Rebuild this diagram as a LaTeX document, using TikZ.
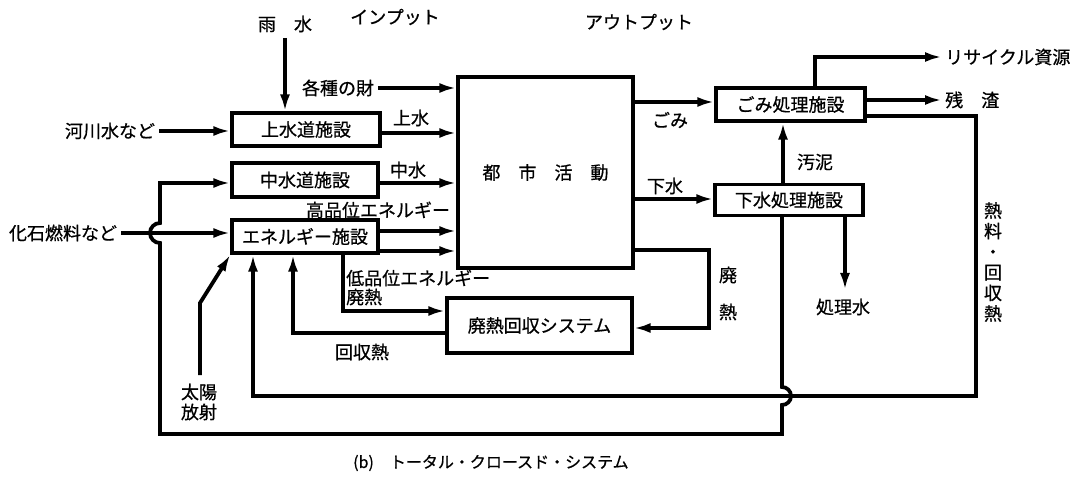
\documentclass[tikz,border=0pt]{standalone}
\usepackage{fontspec}
\setmainfont{Noto Sans CJK JP}[FakeBold=0.7]
\usetikzlibrary{arrows.meta,calc}
\begin{document}
\begin{tikzpicture}[x=1pt,y=-1pt,
  box/.style={draw,line width=3.2pt,inner sep=0pt,font=\fontsize{18pt}{20pt}\selectfont},
  lbl/.style={inner sep=0pt,font=\fontsize{18pt}{20pt}\selectfont},
  flow/.style={line width=3.8pt,-{Latex[length=17pt,width=10pt]}},
  wire/.style={line width=3.8pt}]
\useasboundingbox (0,0) rectangle (1089,478);
% boxes
\node[box,minimum width=148pt,minimum height=33pt] (josui) at (306,129.5) {上水道施設};
\node[box,minimum width=146pt,minimum height=34pt] (chusui) at (305,180) {中水道施設};
\node[box,minimum width=146pt,minimum height=33pt] (ene) at (305,236.5) {エネルギー施設};
\node[box,minimum width=175pt,minimum height=191pt] (toshi) at (545.5,172.5) {都　市　活　動};
\node[box,minimum width=185pt,minimum height=55pt] (haine) at (539.5,325.5) {廃熱回収システム};
\node[box,minimum width=149pt,minimum height=33pt] (gomi) at (790.5,104.5) {ごみ処理施設};
\node[box,minimum width=148pt,minimum height=31pt] (gesui) at (789,200) {下水処理施設};
% labels
\node[lbl] (ame) at (285,24) {雨　水};
\node[lbl] (input) at (395,17) {インプット};
\node[lbl] (output) at (639,22) {アウトプット};
\node[lbl] (zai) at (338,88) {各種の財};
\node[lbl] (kasen) at (110,131) {河川水など};
\node[lbl] (kaseki) at (63,233) {化石燃料など};
\node[lbl] (lJosui) at (411,118) {上水};
\node[lbl] (lChusui) at (408,170) {中水};
\node[lbl] (lKou) at (378,210) {高品位エネルギー};
\node[lbl,anchor=west] (lTei) at (346,278) {低品位エネルギー};
\node[lbl,anchor=west] (lHai) at (346,297) {廃熱};
\node[lbl] (lKaishu) at (362,352) {回収熱};
\node[lbl] (sun1) at (199,392) {太陽};
\node[lbl] (sun2) at (199,412) {放射};
\node[lbl] (lGomi) at (670,120) {ごみ};
\node[lbl] (lGesui) at (665,186) {下水};
\node[lbl] (lOdei) at (815,162) {汚泥};
\node[lbl] (lShori) at (843,307) {処理水};
\node[lbl,anchor=west] (lRecycle) at (945,57) {リサイクル資源};
\node[lbl,anchor=west] (lZan) at (945,100) {残　渣};
\node[lbl,align=center,font=\fontsize{18pt}{20.6pt}\selectfont] (lNetsu) at (993,262) {熱\\料\\・\\回\\収\\熱};
\node[lbl,align=center,font=\fontsize{18pt}{37pt}\selectfont] (lHaiR) at (728,293.5) {廃\\熱};
\node[lbl,anchor=west,font=\fontsize{16pt}{18pt}\selectfont] (caption) at (353,463) {(b)　トータル・クロースド・システム};
% coordinates
\coordinate (rainS) at (285,38);
\coordinate (sunS) at (200,375);
\coordinate (shoriE) at (845,290);
\coordinate (recE) at (942,57);
\coordinate (zanE) at (942,100);
% connectors
\draw[flow] (rainS) -- (rainS |- josui.north);
\draw[flow] ([xshift=4pt]zai.east) -- (toshi.west |- zai.east);
\draw[flow] ([xshift=4pt]kasen.east) -- (josui.west |- kasen.east);
\draw[flow] (josui.east |- 0,133) -- (toshi.west |- 0,133);
\draw[flow] (chusui.east |- 0,183) -- (toshi.west |- 0,183);
\draw[flow] (ene.east |- 0,231) -- (toshi.west |- 0,231);
\draw[flow] (ene.east |- 0,251) -- (toshi.west |- 0,251);
\draw[flow] ([xshift=4pt]kaseki.east) -- (ene.west |- kaseki.east);
\draw[flow] (ene.south -| 343,0) |- (haine.west |- 0,311);
\draw[flow] (haine.west |- 0,333) -| (ene.south -| 293,0);
\draw[flow] (toshi.east |- 0,250) -- (709,250) |- (haine.east |- 0,328);
\draw[flow] (toshi.east |- 0,102) -- (gomi.west |- 0,102);
\draw[flow] (toshi.east |- 0,199) -- (gesui.west |- 0,199);
\draw[flow] (gesui.north -| 783,0) -- (gomi.south -| 783,0);
\draw[flow] (gesui.south -| shoriE) -- (shoriE);
\draw[flow] (gomi.north -| 815,0) |- (recE);
\draw[flow] (gomi.east |- zanE) -- (zanE);
\draw[flow] (gomi.east |- 0,116) -- (976,116) -- (976,396) -- (253,396) -- (ene.south -| 253,0);
\draw[flow] (gesui.south -| 782,0) -- (782,387) arc[start angle=-90,end angle=90,radius=9]
  -- (782,434) -- (160,434) -- (160,243) arc[start angle=90,end angle=270,radius=10]
  -- (160,183) -- (chusui.west |- 0,183);
\draw[flow] (sunS) -- (200,303) -- (ene.south west);
\end{tikzpicture}
\end{document}
